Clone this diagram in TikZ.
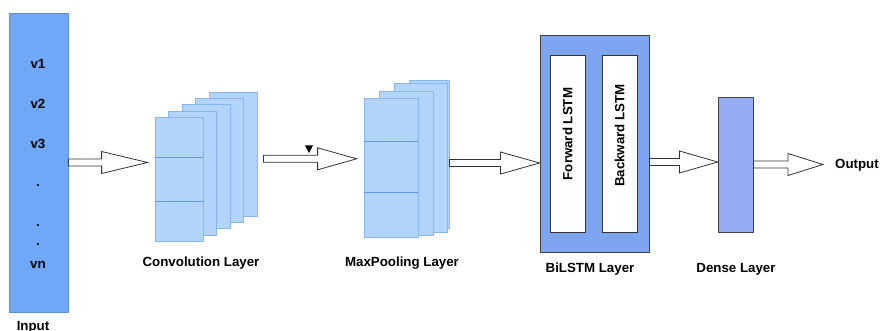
\documentclass[tikz,border=0pt]{standalone}
\usepackage{fontspec}
\setmainfont{Liberation Sans}
\usetikzlibrary{calc}

\definecolor{inputblue}{RGB}{111,168,247}
\definecolor{inputline}{RGB}{92,145,225}
\definecolor{sheetblue}{RGB}{179,212,252}
\definecolor{sheetline}{RGB}{135,182,247}
\definecolor{splitline}{RGB}{100,150,238}
\definecolor{bilstmblue}{RGB}{126,166,240}
\definecolor{denseblue}{RGB}{150,172,245}

\tikzset{
  lbl/.style={font=\bfseries\fontsize{13.3pt}{14pt}\selectfont, inner sep=0},
  inputbox/.style={draw=inputline, fill=inputblue, line width=0.8, minimum width=59, minimum height=299, inner sep=0},
  convsheet/.style={draw=sheetline, fill=sheetblue, line width=0.8, minimum width=48, minimum height=124, inner sep=0},
  poolsheet/.style={draw=sheetline, fill=sheetblue, line width=0.8, inner sep=0},
  outerbox/.style={draw=black!75, fill=bilstmblue, line width=0.9, minimum width=109, minimum height=217, inner sep=0},
  lstmbox/.style={draw=black!80, fill=white, line width=0.9, minimum width=35, minimum height=177, inner sep=0},
  densebox/.style={draw=black!75, fill=denseblue, line width=0.9, minimum width=35, minimum height=135, inner sep=0},
  hollow/.style={draw=black!80, fill=white, line width=0.8, line join=miter},
}

% fat outlined arrow: [head length]{from}{to}, kept level with the start point
\newcommand{\hollowarrow}[3][39]{%
  \draw[hollow] let \p1=(#2), \p2=(#3) in
    (\x1,\y1+3.5pt) -- (\x2-#1pt,\y1+3.5pt) -- (\x2-#1pt,\y1+11pt) -- (\x2,\y1)
    -- (\x2-#1pt,\y1-11pt) -- (\x2-#1pt,\y1-3.5pt) -- (\x1,\y1-3.5pt) -- cycle;}

\begin{document}
\begin{tikzpicture}[x=1pt,y=-1pt]
  \useasboundingbox (0,0) rectangle (881,331);

  % input column
  \node[inputbox] (input) at (38.5,162.5) {};
  \node[lbl] (v1) at (38,64) {v1};
  \node[lbl] (v2) at (38,104) {v2};
  \node[lbl] (v3) at (38,144) {v3};
  \node[lbl] (d1) at (38,186) {.};
  \node[lbl] (d2) at (38,226) {.};
  \node[lbl] (d3) at (38,245) {.};
  \node[lbl] (vn) at (38,265) {vn};
  \node[lbl, anchor=north] (inlbl) at (33,321.5) {Input};

  % convolution sheets, back to front
  \foreach \k in {4,3,2,1} {
    \node[convsheet] (conv\k) at ({179+13.5*\k},{179.5-6.3*\k}) {};
  }
  \node[convsheet] (conv0) at (179,179.5) {};
  \draw[splitline, line width=0.8] (conv0.west |- 0,157) -- (conv0.east |- 0,157);
  \draw[splitline, line width=0.8] (conv0.west |- 0,201) -- (conv0.east |- 0,201);
  \node[lbl] (convlbl) at (201,263) {Convolution Layer};

  % maxpooling sheets, back to front
  \node[poolsheet, minimum width=40, minimum height=148] (pool3) at (429,154) {};
  \node[poolsheet, minimum width=53, minimum height=149] (pool2) at (420.5,157.5) {};
  \node[poolsheet, minimum width=54, minimum height=144] (pool1) at (406,163) {};
  \node[poolsheet, minimum width=54, minimum height=139] (pool0) at (391,167.5) {};
  \draw[splitline, line width=0.8] (pool0.west |- 0,141) -- (pool0.east |- 0,141);
  \draw[splitline, line width=0.8] (pool0.west |- 0,192) -- (pool0.east |- 0,192);
  \node[lbl] (poollbl) at (402,263) {MaxPooling Layer};

  % bilstm block
  \node[outerbox] (bilstm) at (594.5,143.5) {};
  \node[lstmbox] (fwd) at (567.5,143.5) {};
  \node[lstmbox] (bwd) at (619.5,143.5) {};
  \node[lbl, rotate=90] (fwdlbl) at (567.5,134) {Forward LSTM};
  \node[lbl, rotate=90] (bwdlbl) at (619.5,135.5) {Backward LSTM};
  \node[lbl] (bilbl) at (590,269) {BiLSTM Layer};

  % dense block
  \node[densebox] (dense) at (735.5,164.5) {};
  \node[lbl] (denselbl) at (736,269) {Dense Layer};
  \node[lbl, anchor=west] (output) at (835,165) {Output};

  % arrows
  \hollowarrow[46]{input.east}{[xshift=-7pt]conv0.west}
  \hollowarrow{[xshift=6pt,yshift=-4.5pt]conv4.east}{[xshift=-7pt]pool0.west}
  \fill[black] (305,145.5) -- (313,145.5) -- (309,153) -- cycle;
  \hollowarrow{[yshift=-9pt]pool3.east}{bilstm.west}
  \hollowarrow[38]{[yshift=-18.5pt]bilstm.east}{dense.west}
  \hollowarrow[35]{dense.east}{[xshift=-12pt]output.west}
\end{tikzpicture}
\end{document}
